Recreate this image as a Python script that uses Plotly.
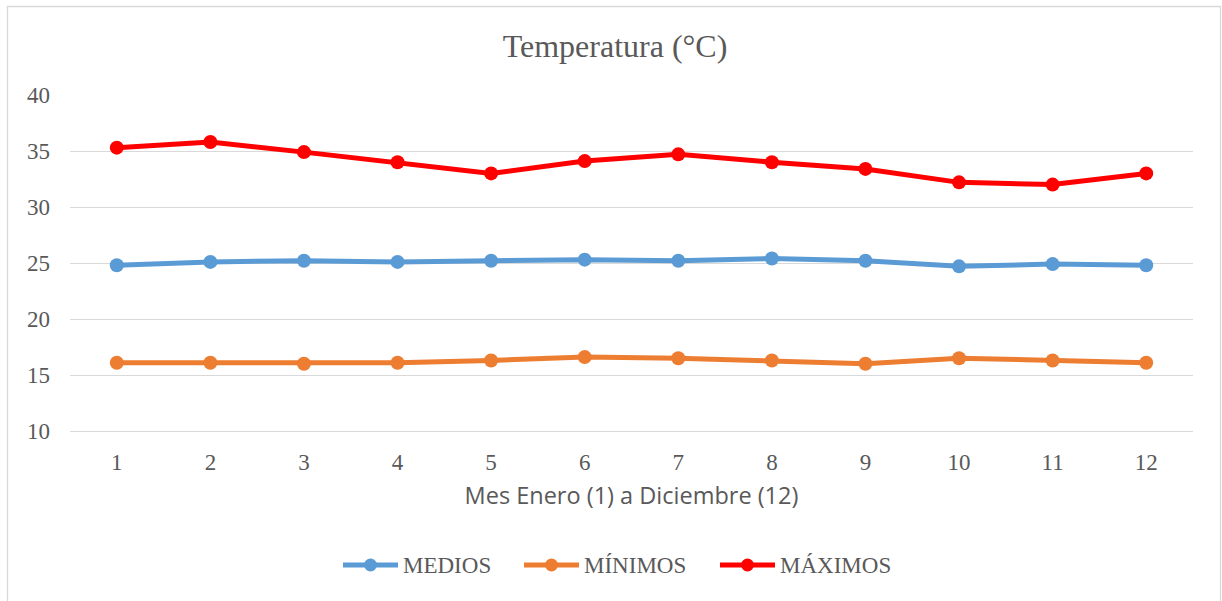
import plotly.graph_objects as go

# Monthly temperatures (°C), January (1) to December (12)
meses = list(range(1, 13))
medios = [24.8, 25.1, 25.2, 25.1, 25.2, 25.3, 25.2, 25.4, 25.2, 24.7, 24.9, 24.8]
minimos = [16.1, 16.1, 16.0, 16.1, 16.3, 16.6, 16.5, 16.3, 16.0, 16.5, 16.3, 16.1]
maximos = [35.3, 35.8, 34.9, 34.0, 33.0, 34.1, 34.7, 34.0, 33.4, 32.2, 32.0, 33.0]

series = [
    ("MEDIOS", medios, "#5B9BD5"),
    ("MÍNIMOS", minimos, "#ED7D31"),
    ("MÁXIMOS", maximos, "#FF0000"),
]

W, H = 1222, 601
L, R, T, B = 70, 29, 95, 170
pw, ph = W - L - R, H - T - B

text_color = "#595959"
grid_color = "#D9D9D9"
serif = "Liberation Serif, Times New Roman, serif"


def px_x(px):
    return (px - L) / pw


def px_y(py):
    return (H - B - py) / ph


fig = go.Figure()
for name, vals, color in series:
    fig.add_trace(go.Scatter(
        x=meses, y=vals, name=name, mode="lines+markers",
        line=dict(color=color, width=5),
        marker=dict(color=color, size=14),
        showlegend=False,
    ))

# Legend drawn by hand so the line samples can be longer than Plotly's
legend_left = [343, 524, 720]   # left edge of each sample line, px
legend_mid_y = 565
sample_len = 55
dot_r = 6.5
shapes = [dict(type="rect", xref="paper", yref="paper",
               x0=px_x(7.5), x1=px_x(1220.5), y0=px_y(620), y1=px_y(6.5),
               line=dict(color=grid_color, width=1.3), layer="below")]
annotations = []
for (name, _, color), x0 in zip(series, legend_left):
    cx = x0 + sample_len / 2
    shapes.append(dict(type="line", xref="paper", yref="paper",
                       x0=px_x(x0), x1=px_x(x0 + sample_len),
                       y0=px_y(legend_mid_y), y1=px_y(legend_mid_y),
                       line=dict(color=color, width=5)))
    shapes.append(dict(type="circle", xref="paper", yref="paper",
                       x0=px_x(cx - dot_r), x1=px_x(cx + dot_r),
                       y0=px_y(legend_mid_y + dot_r), y1=px_y(legend_mid_y - dot_r),
                       fillcolor=color, line=dict(color=color, width=0)))
    annotations.append(dict(text=name, xref="paper", yref="paper",
                            x=px_x(x0 + sample_len + 3), xanchor="left",
                            y=px_y(legend_mid_y), yanchor="middle",
                            showarrow=False,
                            font=dict(family=serif, size=23, color=text_color)))

fig.update_layout(
    width=W, height=H,
    margin=dict(l=L, r=R, t=T, b=B),
    paper_bgcolor="white", plot_bgcolor="white",
    font=dict(family=serif, size=23, color=text_color),
    title=dict(text="Temperatura (°C)", x=615 / W, xref="container",
               xanchor="center",
               y=1 - 46 / H, yref="container", yanchor="middle",
               font=dict(family=serif, size=32, color=text_color)),
    showlegend=False,
    xaxis=dict(range=[0.5, 12.5], tickvals=meses, ticktext=[str(m) for m in meses],
               showgrid=False, zeroline=False, showline=True,
               linecolor=grid_color, linewidth=1, ticks="",
               ticklabelstandoff=10,
               tickfont=dict(family=serif, size=23, color=text_color),
               title=dict(text="Mes Enero (1) a Diciembre (12)", standoff=13,
                          font=dict(family="Open Sans, sans-serif", size=23.5,
                                    color=text_color))),
    yaxis=dict(range=[10, 40], dtick=5, tick0=10,
               showgrid=True, gridcolor=grid_color, gridwidth=1,
               zeroline=False, showline=False, ticks="",
               ticklabelstandoff=19,
               tickfont=dict(family=serif, size=23, color=text_color)),
    shapes=shapes,
    annotations=annotations,
)

fig.write_html("out.html")
